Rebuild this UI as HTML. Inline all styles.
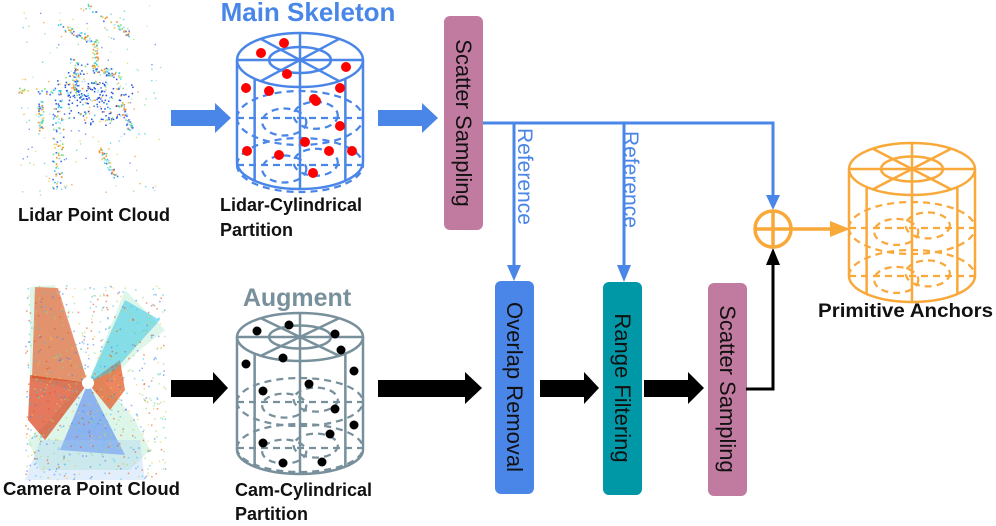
<!DOCTYPE html>
<html><head><meta charset="utf-8">
<style>
html,body{margin:0;padding:0;background:#fff;}
body{width:996px;height:526px;overflow:hidden;position:relative;font-family:"Liberation Sans",sans-serif;}
svg{position:absolute;left:0;top:0;}
</style></head>
<body>
<svg id="s" width="996" height="526" viewBox="0 0 996 526" xmlns="http://www.w3.org/2000/svg">
<g id="clouds"></g>
<g id="cyl"></g>
<!-- block arrows -->
<path d="M171,110 H215 V103 L231,118 L215,133 V126 H171z" fill="#4a86e8"/>
<path d="M378,110 H422 V103 L438,118 L422,133 V126 H378z" fill="#4a86e8"/>
<path d="M171,380 H213 V372 L228,388 L213,404 V397 H171z" fill="#000"/>
<path d="M378,380 H465 V372 L482,388 L465,404 V397 H378z" fill="#000"/>
<path d="M540,380 H584 V372 L599,388 L584,404 V397 H540z" fill="#000"/>
<path d="M644,380 H688 V372 L704,388 L688,404 V397 H644z" fill="#000"/>
<!-- boxes -->
<rect x="444" y="16" width="39" height="214" rx="6" fill="#c27ba0"/>
<rect x="495" y="281" width="39" height="213" rx="6" fill="#4a86e8"/>
<rect x="603" y="282" width="39" height="213" rx="6" fill="#0097a7"/>
<rect x="708" y="283" width="39" height="213" rx="6" fill="#c27ba0"/>
<g font-family="Liberation Sans, sans-serif" font-size="22" fill="#111">
<text transform="translate(456,123) rotate(90)" text-anchor="middle">Scatter Sampling</text>
<text transform="translate(507,387) rotate(90)" text-anchor="middle">Overlap Removal</text>
<text transform="translate(615,388) rotate(90)" text-anchor="middle">Range Filtering</text>
<text transform="translate(720,389) rotate(90)" text-anchor="middle">Scatter Sampling</text>
</g>
<!-- blue lines -->
<g stroke="#4a86e8" stroke-width="3" fill="none">
<path d="M483,123 H773 V205"/>
<path d="M514,123 V265"/>
<path d="M624,123 V265"/>
</g>
<g fill="#4a86e8">
<path d="M507,265 H521 L514,281z"/>
<path d="M617,265 H631 L624,282z"/>
<path d="M766,195 H780 L773,210z"/>
</g>
<g font-family="Liberation Sans, sans-serif" font-size="21" fill="#4a86e8">
<text transform="translate(518,128) rotate(90)">Reference</text>
<text transform="translate(624,131) rotate(90)">Reference</text>
</g>
<!-- black connector -->
<path d="M746,389 H773 V262" stroke="#000" stroke-width="3" fill="none"/>
<path d="M766,265 H780 L773,248z" fill="#000"/>
<!-- circle plus -->
<g stroke="#f9a83a" stroke-width="3.5" fill="none">
<circle cx="773" cy="229" r="18"/>
<path d="M755,229 H791 M773,211 V247"/>
<path d="M791,229 H835"/>
</g>
<path d="M830,221 L850,229 L830,237z" fill="#f9a83a"/>
<!-- text -->
<g font-family="Liberation Sans, sans-serif" font-weight="bold">
<text x="308" y="21" font-size="26" fill="#4a86e8" text-anchor="middle">Main Skeleton</text>
<text x="297" y="306" font-size="25" fill="#78909c" text-anchor="middle">Augment</text>
<g font-size="18" fill="#111">
<text x="18" y="221" textLength="152" lengthAdjust="spacingAndGlyphs">Lidar Point Cloud</text>
<text x="220" y="211">Lidar-Cylindrical</text>
<text x="220" y="236">Partition</text>
<text x="3" y="495" textLength="177" lengthAdjust="spacingAndGlyphs">Camera Point Cloud</text>
<text x="235" y="496">Cam-Cylindrical</text>
<text x="235" y="520">Partition</text>
<text x="818" y="317" font-size="19" textLength="175" lengthAdjust="spacingAndGlyphs">Primitive Anchors</text>
</g>
</g>
</svg>
<script>
(function(){
var NS="http://www.w3.org/2000/svg";
function el(p,t,a){var e=document.createElementNS(NS,t);for(var k in a)e.setAttribute(k,a[k]);p.appendChild(e);return e;}
var cyl=document.getElementById('cyl');
function cylinder(cx,ty,rx,ry,by,dl,col,sw){
 var g=el(cyl,'g',{stroke:col,'stroke-width':sw,fill:'none'});
 el(g,'ellipse',{cx:cx,cy:ty,rx:rx,ry:ry});
 el(g,'ellipse',{cx:cx,cy:ty,rx:rx*0.49,ry:ry*0.48});
 el(g,'line',{x1:cx-rx,y1:ty,x2:cx+rx,y2:ty});
 el(g,'line',{x1:cx-rx*0.62,y1:ty+ry*0.78,x2:cx+rx*0.62,y2:ty-ry*0.78});
 el(g,'line',{x1:cx-rx*0.62,y1:ty-ry*0.78,x2:cx+rx*0.62,y2:ty+ry*0.78});
 el(g,'line',{x1:cx,y1:ty-ry,x2:cx,y2:by+ry});
 el(g,'line',{x1:cx-rx,y1:ty,x2:cx-rx,y2:by});
 el(g,'line',{x1:cx+rx,y1:ty,x2:cx+rx,y2:by});
 el(g,'line',{x1:cx-rx*0.72,y1:ty+ry*0.7,x2:cx-rx*0.72,y2:by+ry*0.7});
 el(g,'line',{x1:cx+rx*0.72,y1:ty+ry*0.7,x2:cx+rx*0.72,y2:by+ry*0.7});
 el(g,'path',{d:'M'+(cx-rx)+','+by+' A'+rx+','+ry+' 0 0 0 '+(cx+rx)+','+by});
 var d=el(cyl,'g',{stroke:col,'stroke-width':sw*0.9,fill:'none','stroke-dasharray':'7,5'});
 for(var i=0;i<dl.length;i++){
  el(d,'line',{x1:cx-rx,y1:dl[i],x2:cx+rx,y2:dl[i]});
  el(d,'path',{d:'M'+(cx-rx)+','+dl[i]+' A'+rx+','+ry+' 0 0 1 '+(cx+rx)+','+dl[i]});
  el(d,'path',{d:'M'+(cx-rx)+','+dl[i]+' A'+rx+','+ry+' 0 0 0 '+(cx+rx)+','+dl[i]});
  el(d,'ellipse',{cx:cx-rx*0.25,cy:dl[i]+ry*0.15,rx:rx*0.35,ry:ry*0.5});
  el(d,'ellipse',{cx:cx+rx*0.25,cy:dl[i]-ry*0.1,rx:rx*0.35,ry:ry*0.5});
 }
}
cylinder(300,60,63,27,162,[118,165],'#4a86e8',2.5);
cylinder(300,337,63,24,450,[402,448],'#78909c',2.5);
cylinder(912,169,63,26,276,[228,276],'#f9a83a',2.5);
var r=[[284,43],[261,53],[346,67],[287,74],[246,88],[269,91],[340,88],[314,99],[316,101],[340,126],[305,142],[247,151],[279,155],[329,151],[352,151],[313,173]];
r.forEach(function(p){el(cyl,'circle',{cx:p[0],cy:p[1],r:5,fill:'#f00'});});
var b=[[257,331],[289,325],[335,334],[341,350],[283,358],[246,364],[354,371],[309,384],[263,391],[335,409],[354,425],[330,434],[263,443],[283,463],[322,462]];
b.forEach(function(p){el(cyl,'circle',{cx:p[0],cy:p[1],r:4.5,fill:'#000'});});
var cl=document.getElementById('clouds');
var seed=7;function rnd(){seed=(seed*16807)%2147483647;return seed/2147483647;}
var cols=['#2ecbe0','#7be07b','#f2c94c','#4a6cf0','#9be0ff','#f28c28'];
var segs=[[85,5,130,35],[60,25,90,40],[70,60,120,75],[15,90,85,92],[60,95,60,185],[55,110,55,190],[100,150,115,175],[75,60,75,90],[95,40,95,70],[40,100,40,130],[120,100,130,130]];
segs.forEach(function(s){for(var i=0;i<40;i++){var t=rnd();el(cl,'rect',{x:s[0]+(s[2]-s[0])*t+rnd()*6-3,y:s[1]+(s[3]-s[1])*t+rnd()*6-3,width:1.6,height:1.6,fill:cols[Math.floor(rnd()*6)]});}});
for(var i=0;i<220;i++){var a=rnd()*6.283,rr=4+rnd()*28;el(cl,'rect',{x:93+Math.cos(a)*rr*1.3,y:95+Math.sin(a)*rr,width:1.5,height:1.5,fill:rnd()<0.6?'#2050e0':cols[Math.floor(rnd()*6)]});}
for(var i=0;i<150;i++){el(cl,'rect',{x:20+rnd()*140,y:5+rnd()*190,width:1.4,height:1.4,fill:cols[Math.floor(rnd()*6)],opacity:0.7});}
var g=el(cl,'g',{});
el(g,'polygon',{points:'30,287 55,285 88,383 125,290 165,330 140,350 120,370 105,383 135,420 150,450 130,470 40,470 28,440 50,420 75,390 30,380',fill:'#b5ecd0',opacity:0.45});
el(g,'polygon',{points:'35,287 58,288 88,383 32,378',fill:'#e4521b',opacity:0.6});
el(g,'polygon',{points:'30,375 88,383 45,440 28,420',fill:'#d9401a',opacity:0.7});
el(g,'polygon',{points:'88,383 120,360 125,390 110,410',fill:'#e4521b',opacity:0.7});
el(g,'polygon',{points:'88,383 125,300 160,320 115,370',fill:'#3cc8e6',opacity:0.55});
el(g,'polygon',{points:'88,383 60,450 125,455',fill:'#4a7cf0',opacity:0.55});
el(g,'polygon',{points:'40,440 140,440 145,480 25,480',fill:'#9fc8f5',opacity:0.3});
for(var i=0;i<700;i++){var x=25+rnd()*140,y=285+rnd()*195;el(g,'rect',{x:x,y:y,width:1.5,height:1.5,fill:['#e4521b','#3cc8e6','#8de07b','#4a7cf0','#f2c94c'][Math.floor(rnd()*5)],opacity:0.6});}
el(g,'circle',{cx:88,cy:383,r:6,fill:'#fff'});
})();
</script>
</body></html>
